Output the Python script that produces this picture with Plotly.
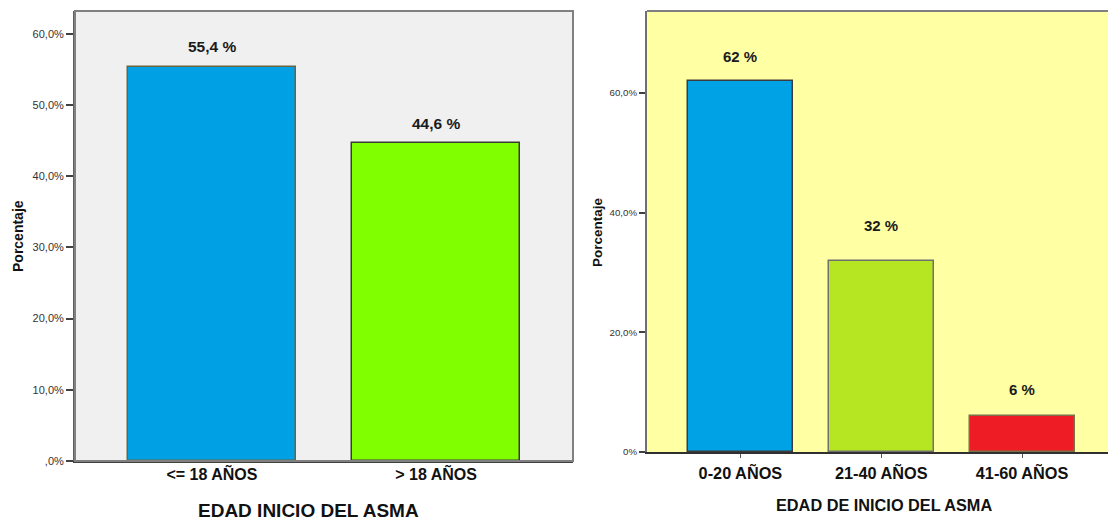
import plotly.graph_objects as go

# Edad de inicio del asma: dos agrupaciones
cat_a = ["<= 18 AÑOS", "> 18 AÑOS"]
val_a = [55.4, 44.6]
tickvals_a = [0, 10, 20, 30, 40, 50, 60]
ticktext_a = [",0%", "10,0%", "20,0%", "30,0%", "40,0%", "50,0%", "60,0%"]

cat_b = ["0-20 AÑOS", "21-40 AÑOS", "41-60 AÑOS"]
val_b = [62, 32, 6]
tickvals_b = [0, 20, 40, 60]
ticktext_b = ["0%", "20,0%", "40,0%", "60,0%"]

W, H = 1108, 521
FONT = "Liberation Sans, Arial, sans-serif"


def px_x(p):
    return p / W


def px_y(p):
    return 1 - p / H


fig = go.Figure()

fig.add_trace(go.Bar(
    x=cat_a, y=val_a, xaxis="x", yaxis="y", width=0.75,
    marker=dict(color=["#00a0e4", "#80ff00"],
                line=dict(color=["#6b6440", "#3a3a3a"], width=1.5)),
    hoverinfo="skip", showlegend=False,
))
fig.add_trace(go.Bar(
    x=cat_b, y=val_b, xaxis="x2", yaxis="y2", width=0.745,
    marker=dict(color=["#00a2e6", "#b6e622", "#ee1c25"],
                line=dict(color=["#3c3c3c", "#707070", "#7d7048"], width=1.5)),
    hoverinfo="skip", showlegend=False,
))

annotations = []
# value labels above each bar
for c, v in zip(cat_a, val_a):
    annotations.append(dict(
        x=c, y=v, xref="x", yref="y", yshift=20, showarrow=False,
        xanchor="center", yanchor="middle",
        text=f"{v:.1f}".replace(".", ",") + " %",
        font=dict(family=FONT, size=15.5, color="#1a1a1a", weight="bold"),
    ))
shift_b = [25, 35, 27]
for c, v, s in zip(cat_b, val_b, shift_b):
    annotations.append(dict(
        x=c, y=v, xref="x2", yref="y2", yshift=s, showarrow=False,
        xanchor="center", yanchor="middle",
        text=f"{v:g} %",
        font=dict(family=FONT, size=15, color="#1a1a1a", weight="bold"),
    ))

# axis titles
annotations += [
    dict(x=px_x(308), y=px_y(510), xref="paper", yref="paper", showarrow=False,
         xanchor="center", yanchor="middle",
         text="EDAD INICIO DEL ASMA",
         font=dict(family=FONT, size=19, color="#111", weight="bold")),
    dict(x=px_x(884), y=px_y(505), xref="paper", yref="paper", showarrow=False,
         xanchor="center", yanchor="middle",
         text="EDAD DE INICIO DEL ASMA",
         font=dict(family=FONT, size=16.3, color="#111", weight="bold")),
    dict(x=px_x(18), y=px_y(236), xref="paper", yref="paper", showarrow=False,
         xanchor="center", yanchor="middle",
         text="Porcentaje", textangle=-90,
         font=dict(family=FONT, size=14, color="#111", weight="bold")),
    dict(x=px_x(598), y=px_y(232), xref="paper", yref="paper", showarrow=False,
         xanchor="center", yanchor="middle",
         text="Porcentaje", textangle=-90,
         font=dict(family=FONT, size=13.5, color="#111", weight="bold")),
]

shapes = [
    # panel backgrounds
    dict(type="rect", xref="x domain", yref="y domain", x0=0, x1=1, y0=0, y1=1,
         fillcolor="#f0f0f0", line=dict(width=0), layer="below"),
    dict(type="rect", xref="x2 domain", yref="y2 domain", x0=0, x1=1, y0=0, y1=1,
         fillcolor="#ffffa3", line=dict(width=0), layer="below"),
    # frame of the left panel and top edge of the right panel
    dict(type="rect", xref="x domain", yref="y domain", x0=0, x1=1, y0=0, y1=1,
         line=dict(color="#808080", width=2), layer="above"),
    dict(type="line", xref="x2 domain", yref="y2 domain", x0=0, x1=1, y0=1, y1=1,
         line=dict(color="#808080", width=2), layer="above"),
]

fig.update_layout(
    width=W, height=H,
    margin=dict(l=0, r=0, t=0, b=0, autoexpand=False),
    paper_bgcolor="white",
    font=dict(family=FONT, color="#333"),
    bargap=0,
    annotations=annotations,
    shapes=shapes,
    xaxis=dict(
        domain=[px_x(75), px_x(573)], anchor="y", automargin=False,
        range=[-0.611, 1.611], showgrid=False,
        showline=True, linecolor="#404040", linewidth=2,
        ticks="", ticklabelstandoff=-2,
        tickfont=dict(family=FONT, size=16, color="#111", weight="bold"),
        fixedrange=True,
    ),
    yaxis=dict(
        domain=[px_y(461), px_y(11)], anchor="x", automargin=False,
        range=[0, 63.2], showgrid=False, zeroline=False,
        showline=True, linecolor="#606060", linewidth=2,
        ticks="outside", ticklen=7, tickcolor="#404040", tickwidth=1.5,
        tickvals=tickvals_a, ticktext=ticktext_a,
        tickfont=dict(family=FONT, size=11, color="#333"),
        fixedrange=True,
    ),
    xaxis2=dict(
        domain=[px_x(647), 1.0], anchor="y2", automargin=False,
        range=[-0.663, 2.61], showgrid=False,
        showline=True, linecolor="#303030", linewidth=2,
        ticks="outside", ticklen=4, tickcolor="#555", ticklabelstandoff=1,
        tickfont=dict(family=FONT, size=16.3, color="#111", weight="bold"),
        fixedrange=True,
    ),
    yaxis2=dict(
        domain=[px_y(452), px_y(11)], anchor="x2", automargin=False,
        range=[0, 73.7], showgrid=False, zeroline=False,
        showline=True, linecolor="#707070", linewidth=2,
        ticks="outside", ticklen=6, tickcolor="#404040", tickwidth=1.5,
        tickvals=tickvals_b, ticktext=ticktext_b,
        tickfont=dict(family=FONT, size=9.7, color="#333"),
        fixedrange=True,
    ),
)

fig.write_html("out.html", config={"displayModeBar": False})
